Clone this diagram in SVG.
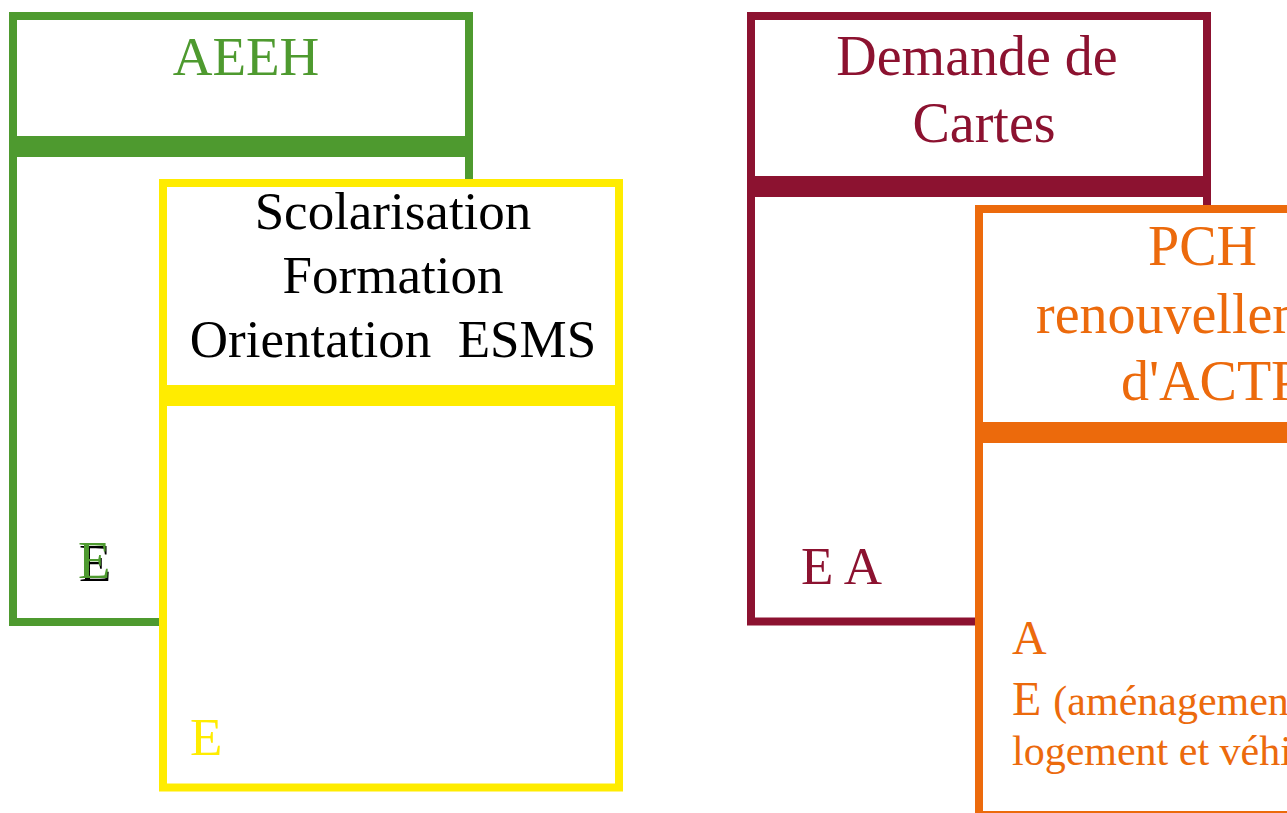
<svg xmlns="http://www.w3.org/2000/svg" width="1287" height="813" viewBox="0 0 1287 813">
<style>
text{font-family:"Liberation Serif","Times New Roman",serif;}
.box{fill:#fff;stroke-width:8;}
.g{stroke:#4E9A2F;} .gf{fill:#4E9A2F;}
.y{stroke:#FFEC00;} .yf{fill:#FFEC00;}
.c{stroke:#8C1230;} .cf{fill:#8C1230;}
.o{stroke:#EC6A0C;} .of{fill:#EC6A0C;}
.k{fill:#000;}
.mid{text-anchor:middle;}
</style>
<rect width="1287" height="813" fill="#fff"/>
<g id="aeeh">
<rect class="box g" x="13" y="16" width="456" height="606"/>
<rect class="gf" x="9" y="136" width="464" height="21"/>
<text class="gf mid" x="246" y="75" font-size="55">AEEH</text>
<text class="k" x="79" y="581" font-size="53">E</text>
<text class="gf" x="78" y="578" font-size="53">E</text>
</g>
<g id="scolarisation">
<rect class="box y" x="163" y="183" width="456" height="604.5"/>
<rect class="yf" x="159" y="385" width="464" height="21"/>
<text class="k mid" font-size="53"><tspan x="393" y="229">Scolarisation</tspan><tspan x="393" y="293">Formation</tspan><tspan x="393" y="357">Orientation&#160; ESMS</tspan></text>
<text class="yf" x="190" y="755" font-size="53">E</text>
</g>
<g id="cartes">
<rect class="box c" x="751" y="16" width="456" height="605.5"/>
<rect class="cf" x="747" y="176" width="464" height="21"/>
<text class="cf mid" font-size="56"><tspan x="977" y="75">Demande de</tspan><tspan x="984" y="142">Cartes</tspan></text>
<text class="cf" x="801" y="584" font-size="53">E A</text>
</g>
<g id="pch">
<rect class="box o" x="979" y="209" width="500" height="606"/>
<rect class="of" x="975" y="422" width="320" height="21"/>
<text class="of" font-size="56"><tspan x="1148" y="265">PCH</tspan><tspan x="1036" y="333">renouvellement</tspan><tspan x="1121" y="400">d'ACTP</tspan></text>
<text class="of" x="1012" y="654" font-size="48">A</text>
<text class="of" x="1012" y="715" font-size="48">E <tspan font-size="42">(aménagement</tspan></text>
<text class="of" x="1012" y="765" font-size="42">logement et véhicule</text>
</g>
<g id="connectors"></g>
</svg>
